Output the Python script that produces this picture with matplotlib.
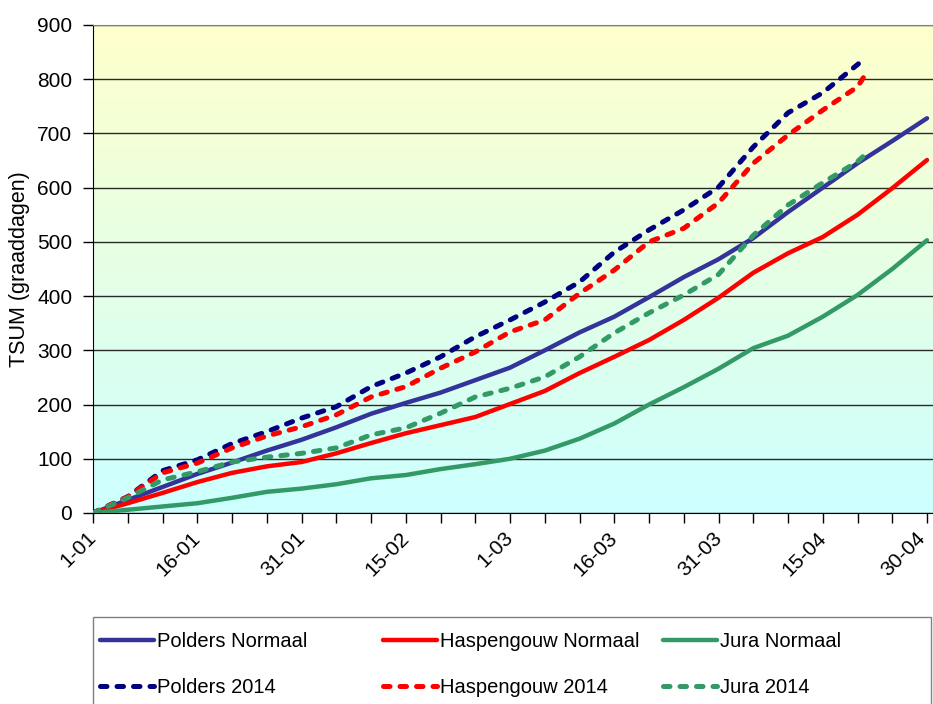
import matplotlib
matplotlib.use("Agg")
import matplotlib.pyplot as plt
import numpy as np
from matplotlib.colors import LinearSegmentedColormap
from matplotlib.patches import Rectangle
from matplotlib.ticker import MultipleLocator, FixedLocator, FixedFormatter
import matplotlib.transforms as mtransforms

plt.rcParams['font.family'] = ['Liberation Sans', 'DejaVu Sans']

# ---- data ----
days = [0, 5, 10, 15, 20, 25, 30, 35, 40, 45, 50, 55, 60, 65, 70, 75, 80, 85, 90, 95, 100, 105, 110, 115, 120]
days_2014 = [0, 5, 10, 15, 20, 25, 30, 35, 40, 45, 50, 55, 60, 65, 70, 75, 80, 85, 90, 95, 100, 105, 110, 111]

polders_normaal = [0, 24, 48, 72, 93, 115, 135, 158, 183, 203, 222, 245, 268, 300, 333, 362, 398, 435, 468, 507, 555, 600, 645, 686, 728]
haspengouw_normaal = [0, 18, 37, 57, 74, 86, 94, 110, 129, 147, 162, 177, 201, 225, 258, 288, 319, 356, 397, 443, 479, 509, 550, 599, 651]
jura_normaal = [0, 6, 12, 18, 28, 39, 45, 53, 64, 70, 81, 90, 100, 115, 137, 165, 200, 232, 266, 304, 327, 362, 402, 450, 503]

polders_2014 = [0, 30, 78, 98, 128, 150, 175, 196, 233, 258, 288, 325, 356, 389, 426, 481, 522, 559, 601, 675, 738, 775, 827, 838]
haspengouw_2014 = [0, 30, 74, 92, 120, 142, 159, 181, 214, 233, 267, 297, 334, 356, 405, 448, 500, 525, 572, 645, 697, 743, 786, 806]
jura_2014 = [0, 28, 61, 76, 94, 103, 110, 120, 144, 157, 184, 214, 230, 251, 288, 332, 369, 402, 440, 512, 568, 609, 648, 660]

tick_days = [0, 15, 30, 45, 60, 75, 90, 105, 120]
tick_labels = ['1-01', '16-01', '31-01', '15-02', '1-03', '16-03', '31-03', '15-04', '30-04']

ylabel = 'TSUM (graaddagen)'

# ---- figure ----
W, H = 933, 704
fig = plt.figure(figsize=(W / 100, H / 100), dpi=100)
ax_l, ax_r, ax_t, ax_b = 93, 933, 25, 513
ax = fig.add_axes([ax_l / W, 1 - ax_b / H, (ax_r - ax_l) / W, (ax_b - ax_t) / H])

px_per_day = (927 - 93) / 120.0
xmax = (ax_r - ax_l) / px_per_day
ax.set_xlim(0, xmax)
ax.set_ylim(0, 900)

# gradient background
cmap = LinearSegmentedColormap.from_list('bg', ['#CCFFFF', '#FFFFCC'])
grad = np.linspace(0, 1, 256).reshape(-1, 1)
ax.imshow(grad, extent=[0, xmax, 0, 900], origin='lower', aspect='auto', cmap=cmap, zorder=0)

ax.set_axisbelow(True)
ax.yaxis.grid(True, color='#2a2a2a', lw=1.0)
ax.xaxis.grid(False)

lw = 3.2
lwd = 3.6
dash = (1.3, 2.0)
l_pn, = ax.plot(days, polders_normaal, color='#333399', lw=lw, label='Polders Normaal', solid_capstyle='round', zorder=3)
l_hn, = ax.plot(days, haspengouw_normaal, color='#FF0000', lw=lw, label='Haspengouw Normaal', solid_capstyle='round', zorder=3)
l_jn, = ax.plot(days, jura_normaal, color='#339966', lw=lw, label='Jura Normaal', solid_capstyle='round', zorder=3)
l_p14, = ax.plot(days_2014, polders_2014, color='#000080', lw=lwd, ls=(0, dash), dash_capstyle='round', label='Polders 2014', zorder=4)
l_h14, = ax.plot(days_2014, haspengouw_2014, color='#FF0000', lw=lwd, ls=(0, dash), dash_capstyle='round', label='Haspengouw 2014', zorder=4)
l_j14, = ax.plot(days_2014, jura_2014, color='#339966', lw=lwd, ls=(0, dash), dash_capstyle='round', label='Jura 2014', zorder=4)

# spines
ax.spines['right'].set_visible(False)
ax.spines['top'].set_color('#808080')
ax.spines['left'].set_color('#000000')
ax.spines['bottom'].set_color('#000000')

# ticks
ax.yaxis.set_major_locator(MultipleLocator(100))
ax.tick_params(axis='y', direction='out', length=7, width=1, pad=8, labelsize=15, color='black')
ax.xaxis.set_major_locator(FixedLocator(tick_days))
ax.xaxis.set_major_formatter(FixedFormatter(tick_labels))
ax.xaxis.set_minor_locator(MultipleLocator(5))
ax.tick_params(axis='x', which='both', direction='out', length=7, width=1, color='black')
ax.tick_params(axis='x', which='major', pad=4, labelsize=15)
labs = ax.get_xticklabels()
for i, lab in enumerate(labs):
    dx = 7 if i < len(labs) - 1 else 2
    off = mtransforms.ScaledTranslation(dx / 100, 0, fig.dpi_scale_trans)
    lab.set_rotation(45)
    lab.set_ha('right')
    lab.set_va('top')
    lab.set_transform(lab.get_transform() + off)

ax.set_ylabel(ylabel, fontsize=15.5, labelpad=5)

# legend frame
fig.add_artist(Rectangle((93 / W, -0.05), (931 - 93) / W, 0.05 + 1 - 617 / H,
                         transform=fig.transFigure, fill=False, edgecolor='#808080', lw=1))

cols = [(100, [l_pn, l_p14]), (383, [l_hn, l_h14]), (663, [l_jn, l_j14])]
for xpx, hs in cols:
    fig.legend(handles=hs, labels=[h.get_label() for h in hs], loc='upper left',
               bbox_to_anchor=(xpx / W, 1 - 632 / H), frameon=False, fontsize=14.5,
               borderpad=0, borderaxespad=0, handlelength=2.7, handletextpad=0.15,
               labelspacing=1.35)

fig.savefig('out.png', dpi=100)
